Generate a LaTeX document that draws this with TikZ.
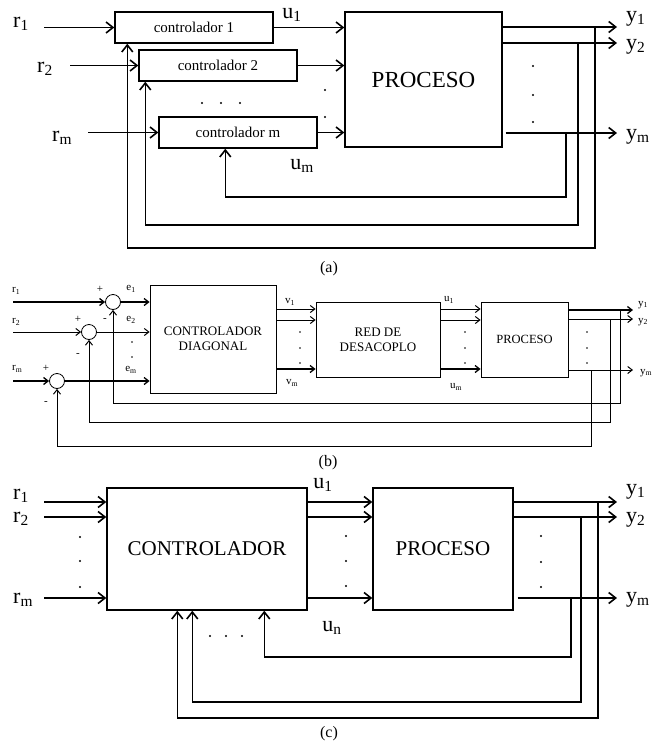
\documentclass[tikz,border=0pt]{standalone}
\usepackage{fontspec}
\setmainfont{Liberation Serif}
\usetikzlibrary{arrows.meta,calc}
\begin{document}
\begin{tikzpicture}[x=1pt,y=-1pt,
  thk/.style={line width=1.4pt},
  arr/.style={thk,-{Straight Barb[length=7pt,width=11pt,line width=1.6pt]}},
  box/.style={draw,thk,inner sep=0pt},
  lab/.style={font=\fontsize{22}{22}\selectfont,inner sep=0pt,anchor=west},
  ctext/.style={font=\fontsize{15}{15}\selectfont},
  captxt/.style={font=\fontsize{16}{16}\selectfont,inner sep=0pt},
  thn/.style={line width=0.8pt},
  arrb/.style={thn,-{Straight Barb[length=4.5pt,width=7pt,line width=1pt]}},
  arrbk/.style={line width=1.3pt,-{Straight Barb[length=4.5pt,width=7pt,line width=1.3pt]}},
  labb/.style={font=\fontsize{11}{11}\selectfont,inner sep=0pt},
  sumc/.style={draw,circle,thn,minimum size=15pt,inner sep=0pt},
]
\useasboundingbox (0,0) rectangle (653,745);

% ================= (a) =================
\node[box,ctext,minimum width=158pt,minimum height=31pt] (c1) at (194,27.5) {controlador 1};
\node[box,ctext,minimum width=158pt,minimum height=31pt] (c2) at (218,65.5) {controlador 2};
\node[box,ctext,minimum width=158pt,minimum height=31pt] (cm) at (238,132.5) {controlador m};
\node[box,font=\fontsize{23}{23}\selectfont,minimum width=157pt,minimum height=135pt] (pa) at (423.5,79.5) {PROCESO};

\node[lab] (r1a) at (13,24) {r\textsubscript{1}};
\node[lab] (r2a) at (37,69) {r\textsubscript{2}};
\node[lab] (rma) at (52,138) {r\textsubscript{m}};
\coordinate (r1s) at (44,27.5);
\coordinate (r2s) at (70,65.5);
\coordinate (rms) at (88,132.5);
\draw[arr] (r1s) -- (c1.west);
\draw[arr] (r2s) -- (c2.west);
\draw[arr] (rms) -- (cm.west);

\draw[arr] (c1.east) -- (c1.east -| pa.west);
\draw[arr] (c2.east) -- (c2.east -| pa.west);
\draw[arr] (cm.east) -- (cm.east -| pa.west);
\node[lab,anchor=center] (u1a) at (292,15) {u\textsubscript{1}};
\node[lab,anchor=center] (uma) at (302,166) {u\textsubscript{m}};

\fill (325,90) circle (1.2pt) (325,117) circle (1.2pt);
\fill (202,103) circle (1.2pt) (221,103) circle (1.2pt) (240,103) circle (1.2pt);

\coordinate (ya1) at (617,27);
\coordinate (ya2) at (617,43);
\coordinate (yam) at (617,133);
\draw[arr] (pa.east |- ya1) -- (ya1);
\draw[arr] (pa.east |- ya2) -- (ya2);
\draw[arr] ([xshift=3pt]pa.east |- yam) -- (yam);
\node[lab] (y1a) at (626,19) {y\textsubscript{1}};
\node[lab] (y2a) at (626,47) {y\textsubscript{2}};
\node[lab] (yma) at (626,137) {y\textsubscript{m}};
\fill (533,66) circle (1.2pt) (533,95) circle (1.2pt) (533,122) circle (1.2pt);

\coordinate (fa1) at (595,248);
\coordinate (fa2) at (578,225);
\coordinate (fam) at (566,197);
\draw[arr] (ya1 -| fa1) -- (fa1) -| ([xshift=13pt]c1.south west);
\draw[arr] (ya2 -| fa2) -- (fa2) -| ([xshift=7pt]c2.south west);
\draw[arr] (yam -| fam) -- (fam) -| ([xshift=67pt]cm.south west);

\node[captxt] (capa) at (329,269) {(a)};

% ================= (b) =================
\node[sumc] (s1) at (113,302) {};
\node[sumc] (s2) at (89,332) {};
\node[sumc] (s3) at (57,381) {};
\node[labb,anchor=west] (r1b) at (12,291) {r\textsubscript{1}};
\node[labb,anchor=west] (r2b) at (12,322) {r\textsubscript{2}};
\node[labb,anchor=west] (rmb) at (12,369) {r\textsubscript{m}};
\coordinate (i1) at (13,302);
\coordinate (i2) at (13,332);
\coordinate (im) at (13,381);
\draw[arrbk] (i1) -- (s1.west);
\draw[arrb] (i2) -- (s2.west);
\draw[arrbk] (im) -- (s3.west);
\node[labb] (p1) at (100,289) {+};
\node[labb] (m1) at (105,320) {-};
\node[labb] (p2) at (78,319) {+};
\node[labb] (m2) at (78,355) {-};
\node[labb] (p3) at (46,368) {+};
\node[labb] (m3) at (46,403) {-};

\node[box,thn,align=center,font=\fontsize{13}{15}\selectfont,minimum width=126pt,minimum height=108pt] (cd) at (213,339) {CONTROLADOR\\DIAGONAL};
\draw[arrbk] (s1.east) -- (s1.east -| cd.west);
\draw[arrb] (s2.east) -- (s2.east -| cd.west);
\draw[arrbk] (s3.east) -- (s3.east -| cd.west);
\node[labb] (e1) at (131,289) {e\textsubscript{1}};
\node[labb] (e2) at (131,320) {e\textsubscript{2}};
\node[labb] (em) at (131,370) {e\textsubscript{m}};
\fill (132,342) circle (0.8pt) (132,357) circle (0.8pt);

\node[box,thn,align=center,font=\fontsize{13}{15}\selectfont,minimum width=124pt,minimum height=75pt] (red) at (378,339.5) {RED DE\\DESACOPLO};
\draw[arrb] (cd.east |- 0,309) -- (red.west |- 0,309);
\draw[arrb] (cd.east |- 0,320) -- (red.west |- 0,320);
\draw[arrbk] (cd.east |- 0,369) -- (red.west |- 0,369);
\node[labb] (v1) at (290,302) {v\textsubscript{1}};
\node[labb] (vm) at (292,383) {v\textsubscript{m}};
\fill (300,332) circle (0.8pt) (300,348) circle (0.8pt) (300,363) circle (0.8pt);

\node[box,thn,font=\fontsize{12.5}{15}\selectfont,minimum width=87pt,minimum height=75pt] (pb) at (524.5,339.5) {PROCESO};
\draw[arrb] (red.east |- 0,309) -- (pb.west |- 0,309);
\draw[arrb] (red.east |- 0,320) -- (pb.west |- 0,320);
\draw[arrbk] (red.east |- 0,369) -- (pb.west |- 0,369);
\node[labb] (u1b) at (449,300) {u\textsubscript{1}};
\node[labb] (umb) at (456,387) {u\textsubscript{m}};
\fill (465,332) circle (0.8pt) (465,348) circle (0.8pt) (465,363) circle (0.8pt);

\coordinate (yb1) at (633,310);
\coordinate (yb2) at (633,319);
\coordinate (ybm) at (633,370);
\draw[arrbk] (pb.east |- yb1) -- (yb1);
\draw[arrb] (pb.east |- yb2) -- (yb2);
\draw[arrb] (pb.east |- ybm) -- (ybm);
\node[labb,anchor=west] (y1b) at (638,305) {y\textsubscript{1}};
\node[labb,anchor=west] (y2b) at (638,322) {y\textsubscript{2}};
\node[labb,anchor=west] (ymb) at (640,373) {y\textsubscript{m}};
\fill (587,332) circle (0.8pt) (587,348) circle (0.8pt) (587,363) circle (0.8pt);

\coordinate (fb1) at (620,403);
\coordinate (fb2) at (610,422);
\coordinate (fbm) at (591,446);
\draw[arrb] (yb1 -| fb1) -- (fb1) -| (s1.south);
\draw[arrb] (yb2 -| fb2) -- (fb2) -| (s2.south);
\draw[arrb] (ybm -| fbm) -- (fbm) -| (s3.south);

\node[captxt] (capb) at (328,463) {(b)};

% ================= (c) =================
\node[box,font=\fontsize{21}{21}\selectfont,minimum width=200pt,minimum height=122pt] (cc) at (207,549) {CONTROLADOR};
\node[box,font=\fontsize{21}{21}\selectfont,minimum width=140pt,minimum height=122pt] (pc) at (443,549) {PROCESO};

\node[lab] (r1c) at (13,496) {r\textsubscript{1}};
\node[lab] (r2c) at (13,519) {r\textsubscript{2}};
\node[lab] (rmc) at (13,600) {r\textsubscript{m}};
\coordinate (ic1) at (44,502);
\coordinate (ic2) at (44,517);
\coordinate (icm) at (44,598);
\draw[arr] (ic1) -- (ic1 -| cc.west);
\draw[arr] (ic2) -- (ic2 -| cc.west);
\draw[arr] (icm) -- (icm -| cc.west);
\fill (80,537) circle (1.2pt) (80,561) circle (1.2pt) (80,587) circle (1.2pt);

\draw[arr] (cc.east |- ic1) -- (pc.west |- ic1);
\draw[arr] (cc.east |- ic2) -- (pc.west |- ic2);
\draw[arr] (cc.east |- icm) -- (pc.west |- icm);
\fill (346,536) circle (1.2pt) (346,561) circle (1.2pt) (346,586) circle (1.2pt);
\node[lab,anchor=center] (u1c) at (323,485) {u\textsubscript{1}};
\node[lab,anchor=center] (unc) at (332,628) {u\textsubscript{n}};

\coordinate (yc1) at (617,502);
\coordinate (yc2) at (617,517);
\coordinate (ycm) at (617,598);
\draw[arr] (pc.east |- yc1) -- (yc1);
\draw[arr] (pc.east |- yc2) -- (yc2);
\draw[arr] ([xshift=4pt]pc.east |- ycm) -- (ycm);
\node[lab] (y1c) at (626,492) {y\textsubscript{1}};
\node[lab] (y2c) at (626,520) {y\textsubscript{2}};
\node[lab] (ymc) at (626,600) {y\textsubscript{m}};
\fill (541,536) circle (1.2pt) (541,562) circle (1.2pt) (541,587) circle (1.2pt);

\coordinate (fc1) at (598,718);
\coordinate (fc2) at (581,702);
\coordinate (fcm) at (571,657);
\draw[arr] (yc1 -| fc1) -- (fc1) -| ([xshift=71pt]cc.south west);
\draw[arr] (yc2 -| fc2) -- (fc2) -| ([xshift=86pt]cc.south west);
\draw[arr] (ycm -| fcm) -- (fcm) -| ([xshift=158pt]cc.south west);
\fill (210,636) circle (1.2pt) (226,636) circle (1.2pt) (242,636) circle (1.2pt);

\node[captxt] (capc) at (329,734) {(c)};
\end{tikzpicture}
\end{document}
